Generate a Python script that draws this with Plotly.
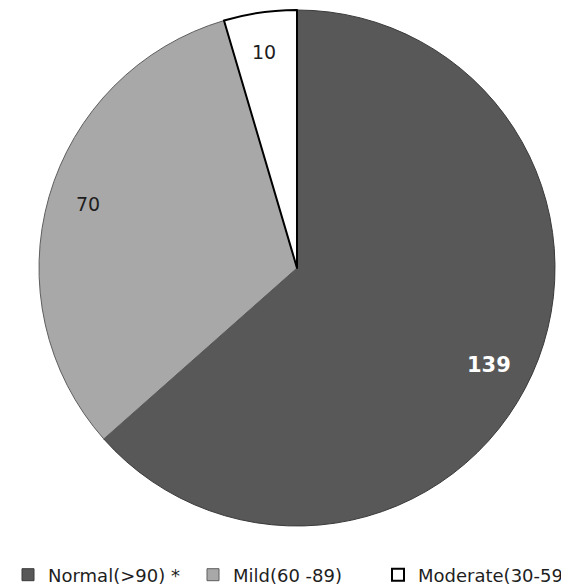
import math
import plotly.graph_objects as go

categories = ["Normal(>90) *", "Mild(60 -89)", "Moderate(30-59"]
values = [139, 70, 10]
colors = ["#585858", "#a8a8a8", "#ffffff"]
line_colors = ["#3a3a3a", "#5e5e5e", "#000000"]
line_widths = [1, 1, 2]
label_colors = ["#ffffff", "#1e1e1e", "#1e1e1e"]
label_bold = [True, False, False]
label_sizes = [21, 19, 19]

W, H = 569, 587
CX, CY, R = 289, 260, 258   # pie centre/radius in figure pixels (layout)
label_r = [0.92, 0.90, 0.895]
FONT = "DejaVu Sans, Noto Sans, sans-serif"

fig = go.Figure()
fig.add_trace(go.Pie(
    labels=categories,
    values=values,
    sort=False,
    direction="clockwise",
    rotation=0,
    marker=dict(colors=colors, line=dict(color=line_colors, width=line_widths)),
    textinfo="none",
    hoverinfo="label+value",
    domain=dict(x=[(CX - R) / W, (CX + R) / W], y=[1 - (CY + R) / H, 1 - (CY - R) / H]),
))

total = sum(values)
cum = 0
for i, v in enumerate(values):
    mid = (cum + v / 2) / total * 2 * math.pi
    cum += v
    px = CX + R * label_r[i] * math.sin(mid)
    py = CY - R * label_r[i] * math.cos(mid)
    txt = f"<b>{v}</b>" if label_bold[i] else str(v)
    fig.add_annotation(
        x=px / W, y=1 - py / H, xref="paper", yref="paper",
        text=txt, showarrow=False,
        font=dict(size=label_sizes[i], color=label_colors[i], family=FONT),
    )

fig.update_layout(
    width=W, height=H,
    margin=dict(l=0, r=0, t=0, b=0),
    paper_bgcolor="white",
    plot_bgcolor="white",
    showlegend=True,
    legend=dict(
        orientation="h",
        x=0.0, y=1 - 567 / H, xanchor="left", yanchor="middle",
        font=dict(size=18, color="#1e1e1e", family=FONT),
        entrywidth=140,
        itemwidth=30,
        traceorder="normal",
    ),
)

fig.write_html("out.html")
